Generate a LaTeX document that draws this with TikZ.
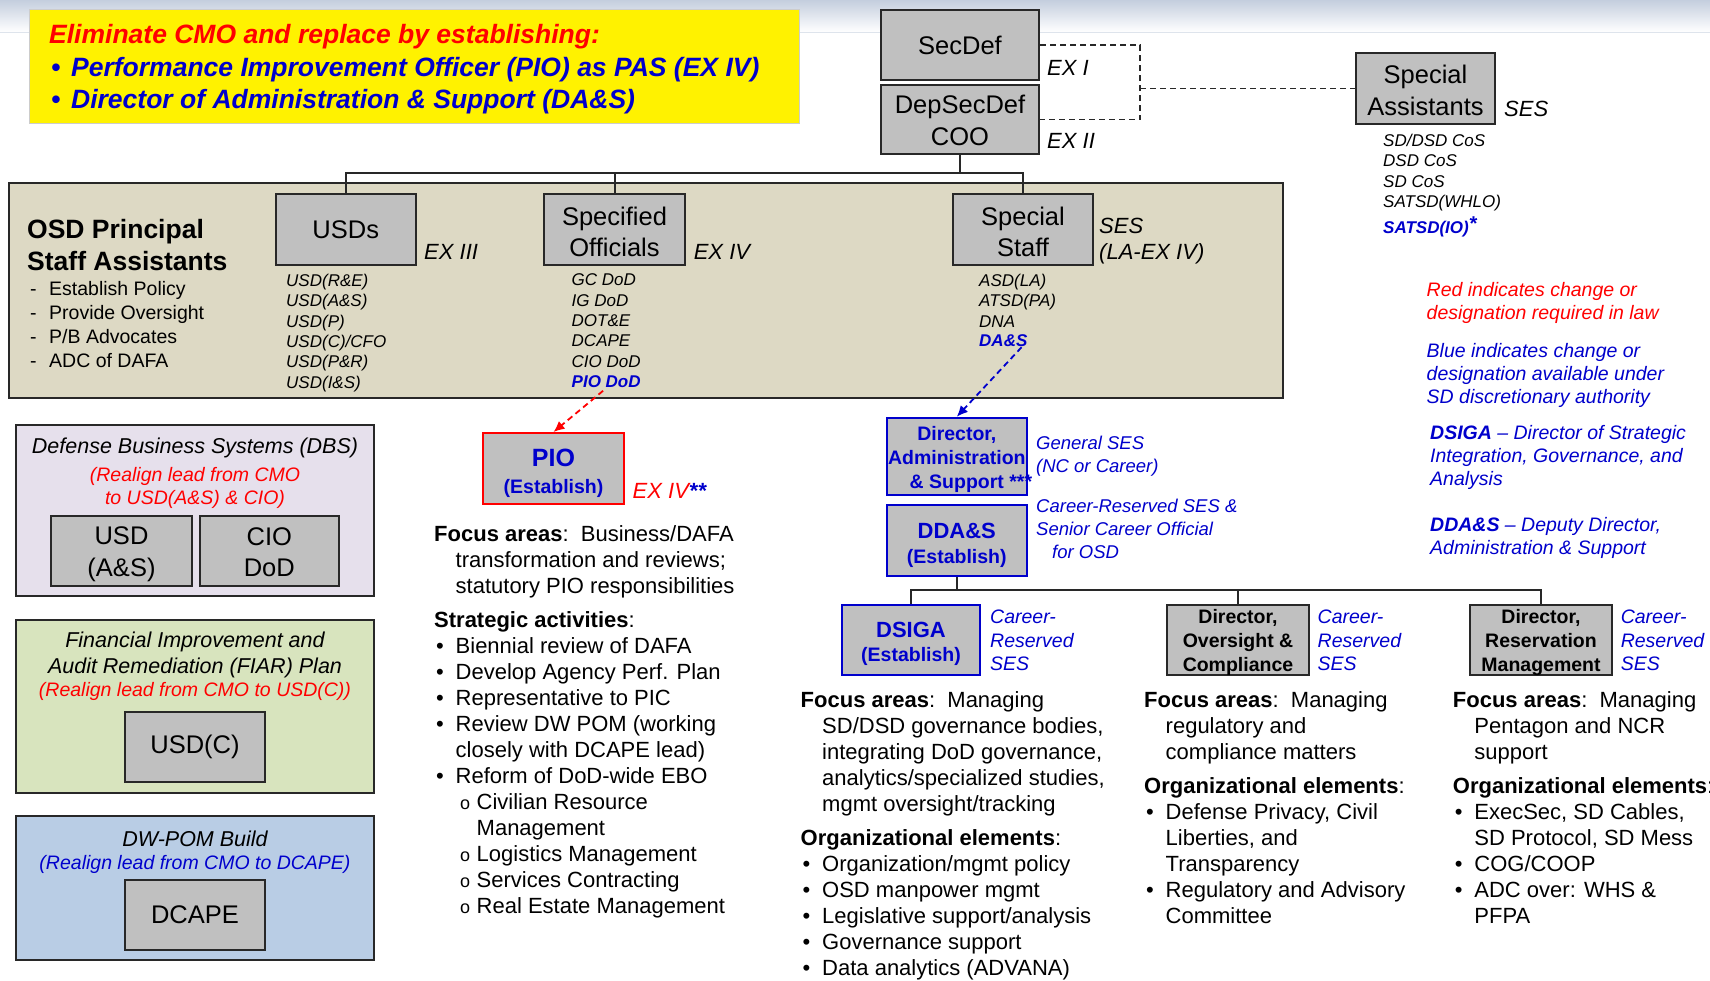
\documentclass[tikz,border=0pt]{standalone}
\usepackage{fontspec}
\setmainfont{Liberation Sans}
\usetikzlibrary{arrows.meta}
\definecolor{boxgray}{RGB}{192,192,192}
\definecolor{boxline}{RGB}{40,40,40}
\definecolor{tanfill}{RGB}{221,217,196}
\definecolor{lavfill}{RGB}{230,224,236}
\definecolor{grnfill}{RGB}{216,228,190}
\definecolor{bluefill}{RGB}{185,205,229}
\definecolor{myblue}{RGB}{0,0,204}
\definecolor{myred}{RGB}{255,0,0}
\definecolor{bandtop}{RGB}{196,206,222}
\definecolor{bandline}{RGB}{222,228,236}
\newcommand\myfs[2]{\fontsize{#1}{#2}\selectfont}
\newcommand\myind{\hspace*{21.5pt}}
\newcommand\mybul{\makebox[21.5pt][l]{\hspace*{2pt}•}}
\newcommand\mysub{\hspace*{26pt}\makebox[16.5pt][l]{\myfs{18}{18}o}}
\newcommand\mysubind{\hspace*{42.5pt}}
\newcommand\up[1]{\rule{0pt}{#1pt}}
\begin{document}
\begin{tikzpicture}[x=1pt,y=-1pt,
 box/.style={draw=boxline, fill=boxgray, line width=2pt, align=center, inner sep=0pt, font=\myfs{25.5}{31.5}},
 bbox/.style={box, font=\myfs{19.5}{24}\bfseries},
 panel/.style={draw=boxline, line width=2pt, inner sep=0pt},
 conn/.style={draw=boxline, line width=2pt},
 txt/.style={inner sep=0pt, anchor=north west, align=left},
 ital/.style={inner sep=0pt, anchor=west, font=\myfs{22}{26}\itshape},
 lst/.style={txt, font=\myfs{17}{20.4}\itshape},
 body/.style={txt, font=\myfs{22}{26}},
 leg/.style={txt, font=\myfs{19.5}{23}\itshape},
 sz/.style 2 args={minimum width=#1pt, minimum height=#2pt},
 dashline/.style={boxline, line width=1.8pt, dash pattern=on 6pt off 4pt},
 dasharrow/.style={line width=1.8pt, dash pattern=on 6pt off 4pt, -{Latex[length=11pt,width=10pt]}}
]
\useasboundingbox (0,0) rectangle (1710,980);
\fill[white] (0,0) rectangle (1710,980);
\shade[top color=bandtop, bottom color=white] (0,0) rectangle (1710,32);
\draw[bandline, line width=1pt] (0,32.5) -- (1710,32.5);

% yellow banner
\node[fill=yellow, draw=gray!40, line width=0.5pt, inner sep=0pt, sz={770}{114.5}] (yel) at (414.4,66) {};
\node[txt, font=\myfs{26.5}{32.5}\bfseries\itshape] (yeltxt) at (49,24.2)
 {\textcolor{myred}{Eliminate CMO and replace by establishing:}\\
  \textcolor{myblue}{\hspace*{2pt}\makebox[20pt][l]{•}Performance Improvement Officer (PIO) as PAS (EX IV)}\\
  \textcolor{myblue}{\hspace*{2pt}\makebox[20pt][l]{•}Director of Administration \& Support (DA\&S)}};

% top of hierarchy
\node[box, sz={158}{70}] (secdef) at (960,45) {SecDef};
\node[box, sz={158}{69}] (depsecdef) at (960,119.5) {\up{20}DepSecDef\\COO};
\node[ital] (exi) at (1047,67.6) {EX I};
\node[ital] (exii) at (1047,140.7) {EX II};
\node[box, sz={139}{71}] (specasst) at (1425.5,88.5) {\up{22.5}Special\\Assistants};
\node[ital] (sesA) at (1504,109) {SES};
\node[lst] (salist) at (1383,133.7) {SD/DSD CoS\\DSD CoS\\SD CoS\\SATSD(WHLO)\\[6pt]\textcolor{myblue}{\bfseries SATSD(IO)\raisebox{3pt}{\myfs{20}{20}*}}};
\coordinate (dj) at (1140,88.5);
\draw[dashline] (secdef.east) -| (dj) |- (depsecdef.east);
\draw[dashline] (dj) -- (specasst.west);

% OSD PSA panel
\node[panel, fill=tanfill, sz={1273.8}{215}] (osd) at (645.6,290.5) {};
\node[txt, font=\myfs{26.5}{32}\bfseries] (osdlab) at (27,219) {OSD Principal\\Staff Assistants};
\node[txt, font=\myfs{19.5}{24}] (osdbul) at (30,280.8) {\makebox[19pt][l]{-}Establish Policy\\\makebox[19pt][l]{-}Provide Oversight\\\makebox[19pt][l]{-}P/B Advocates\\\makebox[19pt][l]{-}ADC of DAFA};
\node[box, sz={139.5}{71}] (usds) at (345.75,229.5) {USDs};
\node[box, sz={141}{71}] (specoff) at (614.5,229.5) {\up{23}Specified\\Officials};
\node[box, sz={140}{71}] (specstaff) at (1023,229.5) {\up{23}Special\\Staff};
\node[ital] (exiii) at (424,252) {EX III};
\node[ital] (exiv) at (693.6,252) {EX IV};
\node[txt, font=\myfs{22}{26}\itshape] (sesB) at (1099,218) {SES\\(LA-EX IV)};
\node[lst] (usdlist) at (286,273.7) {USD(R\&E)\\USD(A\&S)\\USD(P)\\USD(C)/CFO\\USD(P\&R)\\USD(I\&S)};
\node[lst] (spolist) at (571.5,273.7) {GC DoD\\IG DoD\\DOT\&E\\DCAPE\\CIO DoD};
\node[inner sep=0pt, anchor=west, font=\myfs{17}{20.4}\bfseries\itshape, text=myblue] (piodod) at (571.5,382) {PIO DoD};
\node[lst] (sslist) at (979,273.7) {ASD(LA)\\ATSD(PA)\\DNA};
\node[inner sep=0pt, anchor=west, font=\myfs{17}{20.4}\bfseries\itshape, text=myblue] (das) at (979,341) {DA\&S};

\coordinate (j1) at (960,173.4);
\draw[conn] (depsecdef.south) -- (j1);
\draw[conn] (usds.north) |- (j1);
\draw[conn] (specoff.north) |- (j1);
\draw[conn] (specstaff.north) |- (j1);

% legend
\node[leg, text=myred] (legred) at (1426.5,281.8) {Red indicates change or\\designation required in law};
\node[leg, text=myblue] (legblue) at (1426.5,342.8) {Blue indicates change or\\designation available under\\SD discretionary authority};
\node[leg, text=myblue] (legdsiga) at (1430,424.8) {{\bfseries DSIGA} – Director of Strategic\\Integration, Governance, and\\Analysis};
\node[leg, text=myblue] (legddas) at (1430,517.4) {{\bfseries DDA\&S} – Deputy Director,\\Administration \& Support};

% left panels
\node[panel, fill=lavfill, sz={358}{170.5}] (dbs) at (195,510.25) {};
\node[inner sep=0pt, font=\myfs{21.5}{26}\itshape] (dbstitle) at (195,448) {Defense Business Systems (DBS)};
\node[inner sep=0pt, anchor=north, align=center, font=\myfs{19.5}{23}\itshape, text=myred] (dbsred) at (195,466.8) {(Realign lead from CMO\\to USD(A\&S) \& CIO)};
\node[box, sz={141}{69.6}] (usdas) at (121.5,550.8) {\up{25}USD\\(A\&S)};
\node[box, sz={139.4}{69.6}] (ciodod) at (269.3,550.8) {\up{20.5}CIO\\DoD};

\node[panel, fill=grnfill, sz={358}{173.5}] (fiar) at (195,706.25) {};
\node[inner sep=0pt, anchor=north, align=center, font=\myfs{21.5}{26}\itshape] (fiartitle) at (195,632) {Financial Improvement and\\Audit Remediation (FIAR) Plan};
\node[inner sep=0pt, font=\myfs{19.5}{23}\itshape, text=myred] (fiarred) at (195,691.5) {(Realign lead from CMO to USD(C))};
\node[box, sz={140}{70}] (usdc) at (195,747) {USD(C)};

\node[panel, fill=bluefill, sz={358}{144}] (dwpom) at (195,888) {};
\node[inner sep=0pt, font=\myfs{21.5}{26}\itshape] (dwtitle) at (195,838.6) {DW-POM Build};
\node[inner sep=0pt, font=\myfs{19.5}{23}\itshape, text=myblue] (dwblue) at (195,864) {(Realign lead from CMO to DCAPE)};
\node[box, sz={140}{70}] (dcape) at (195,915) {DCAPE};

% PIO
\node[box, draw=myred, text=myblue, sz={141}{71}, font=\myfs{19.5}{27}\bfseries] (pio) at (553.5,468.5) {{\myfs{25}{27}\up{27}PIO}\\(Establish)};
\node[ital, text=myred] (exivpio) at (632.5,491) {EX IV\textcolor{myblue}{\bfseries**}};
\node[body] (piotxt) at (434,524.9) {{\bfseries Focus areas}:\ \ Business/DAFA\\
\myind transformation and reviews;\\
\myind statutory PIO responsibilities\\[8pt]
{\bfseries Strategic activities}:\\
\mybul Biennial review of DAFA\\
\mybul Develop Agency Perf. Plan\\
\mybul Representative to PIC\\
\mybul Review DW POM (working\\
\myind closely with DCAPE lead)\\
\mybul Reform of DoD-wide EBO\\
\mysub Civilian Resource\\
\mysubind Management\\
\mysub Logistics Management\\
\mysub Services Contracting\\
\mysub Real Estate Management};
\draw[myred, dasharrow, shorten <=4pt] (piodod.south) -- (pio.north);

% DA&S branch
\node[bbox, draw=myblue, text=myblue, sz={140.4}{77.3}] (dirAS) at (956.8,456.35) {\up{20.5}Director,\\Administration\\\& Support\rlap{ ***}};
\draw[myblue, dasharrow] ([xshift=-6pt]das.south east) -- (dirAS.north);
\node[leg, font=\myfs{18.5}{22.7}\itshape, text=myblue] (gses) at (1036,436) {General SES\\(NC or Career)};
\node[box, draw=myblue, text=myblue, sz={140.4}{71}, font=\myfs{19.5}{25}\bfseries] (ddas) at (956.8,540.5) {{\myfs{22}{25}\up{25}DDA\&S}\\(Establish)};
\node[leg, font=\myfs{18.5}{23}\itshape, text=myblue] (crses) at (1036,499) {Career-Reserved SES \&\\Senior Career Official\\\hspace*{16pt}for OSD};

\node[box, draw=myblue, text=myblue, sz={138}{70}, font=\myfs{19.5}{24}\bfseries] (dsiga) at (911,640) {{\myfs{22}{24}\up{22.5}DSIGA}\\(Establish)};
\node[leg, font=\myfs{19.5}{23.5}\itshape, text=myblue] (cr1) at (990,609.8) {Career-\\Reserved\\SES};
\node[bbox, sz={142}{70}] (dirOC) at (1238,640) {\up{18.6}Director,\\Oversight \&\\Compliance};
\node[leg, font=\myfs{19.5}{23.5}\itshape, text=myblue] (cr2) at (1317.5,609.8) {Career-\\Reserved\\SES};
\node[bbox, sz={142}{70}] (dirRM) at (1541,640) {\up{18.6}Director,\\Reservation\\Management};
\node[leg, font=\myfs{19.5}{23.5}\itshape, text=myblue] (cr3) at (1620.6,609.8) {Career-\\Reserved\\SES};

\coordinate (j2) at (956.8,590);
\draw[conn] (ddas.south) -- (j2);
\draw[conn] (dsiga.north) |- (j2);
\draw[conn] (dirOC.north) |- (j2);
\draw[conn] (dirRM.north) |- (j2);

\node[body] (dsigatxt) at (800.5,690.9) {{\bfseries Focus areas}:\ \ Managing\\
\myind SD/DSD governance bodies,\\
\myind integrating DoD governance,\\
\myind analytics/specialized studies,\\
\myind mgmt oversight/tracking\\[8pt]
{\bfseries Organizational elements}:\\
\mybul Organization/mgmt policy\\
\mybul OSD manpower mgmt\\
\mybul Legislative support/analysis\\
\mybul Governance support\\
\mybul Data analytics (ADVANA)};

\node[body] (octxt) at (1144,690.9) {{\bfseries Focus areas}:\ \ Managing\\
\myind regulatory and\\
\myind compliance matters\\[8pt]
{\bfseries Organizational elements}:\\
\mybul Defense Privacy, Civil\\
\myind Liberties, and\\
\myind Transparency\\
\mybul Regulatory and Advisory\\
\myind Committee};

\node[body] (rmtxt) at (1452.7,690.9) {{\bfseries Focus areas}:\ \ Managing\\
\myind Pentagon and NCR\\
\myind support\\[8pt]
{\bfseries Organizational elements}:\\
\mybul ExecSec, SD Cables,\\
\myind SD Protocol, SD Mess\\
\mybul COG/COOP\\
\mybul ADC over: WHS \&\\
\myind PFPA};
\end{tikzpicture}
\end{document}
